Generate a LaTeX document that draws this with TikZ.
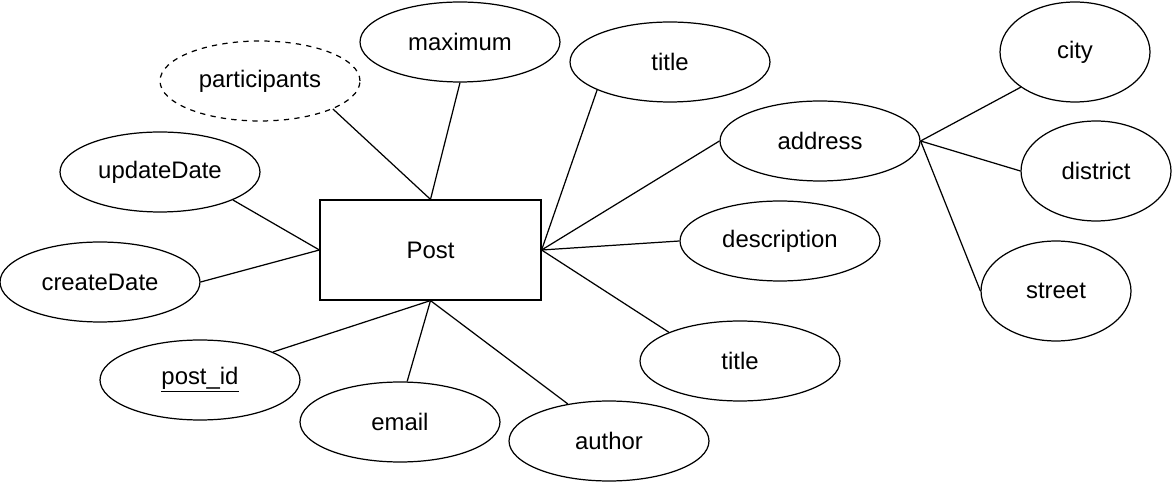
\documentclass[tikz,border=0pt]{standalone}
\usepackage{fontspec}
\setmainfont{Liberation Sans}
\usepackage{tikz}
\usetikzlibrary{shapes.geometric}
\tikzstyle{entity}=[draw, line width=0.7pt, minimum width=4.42cm,
  minimum height=2cm, inner sep=0pt, text centered]
\tikzstyle{attr}=[draw, ellipse, line width=0.7pt, minimum width=4cm,
  minimum height=1.6cm, inner sep=0pt, text centered]
\tikzstyle{weak}=[attr, dashed]
\tikzstyle{part}=[attr, minimum width=3cm, minimum height=2cm]
\tikzstyle{line}=[draw, line width=0.7pt, color=black]
\newcommand{\attrElt}[3]{node (#1) [attr] {#3}}

\begin{document}
\begin{tikzpicture}[x=0.02cm, y=-0.02cm,
  every node/.style={font=\fontsize{13.6}{16}\selectfont}]
  \useasboundingbox (0,0) rectangle (1172,482);

  % Draw the entity
  \node (post) [entity] at (430.5,250) {Post};

  % Draw the attributes
  \path (460,42) \attrElt{maximum}{}{maximum};
  \node (participants) [weak] at (260,81) {participants};
  \path (160,172) \attrElt{updateDate}{}{updateDate};
  \path (100,282) \attrElt{createDate}{}{createDate};
  \path (200,380) \attrElt{postid}{}{\underline{post\_id}};
  \path (400,422) \attrElt{email}{}{email};
  \path (609,441) \attrElt{author}{}{author};
  \path (740,361) \attrElt{titleB}{}{title};
  \path (780,241) \attrElt{description}{}{description};
  \path (820,141) \attrElt{address}{}{address};
  \path (670,62) \attrElt{titleA}{}{title};
  \node (city) [part] at (1075,52) {city};
  \node (district) [part] at (1096,171) {district};
  \node (street) [part] at (1056,291) {street};

  % Draw lines between entity and attributes
  \path [line] (participants.339) -- (post.north);
  \path [line] (maximum.south) -- (post.north);
  \path [line] (updateDate.339) -- (post.west);
  \path [line] (createDate.east) -- (post.west);
  \path [line] (postid.21) -- (post.south);
  \path [line] (email.80) -- (post.south);
  \path [line] (author.138) -- (post.south);
  \path [line] (titleA.201) -- (post.east);
  \path [line] (address.west) -- (post.east);
  \path [line] (description.west) -- (post.east);
  \path [line] (titleB.158) -- (post.east);

  % Composite attribute parts
  \path [line] (address.east) -- (city.213);
  \path [line] (address.east) -- (district.west);
  \path [line] (address.east) -- (street.west);
\end{tikzpicture}
\end{document}
